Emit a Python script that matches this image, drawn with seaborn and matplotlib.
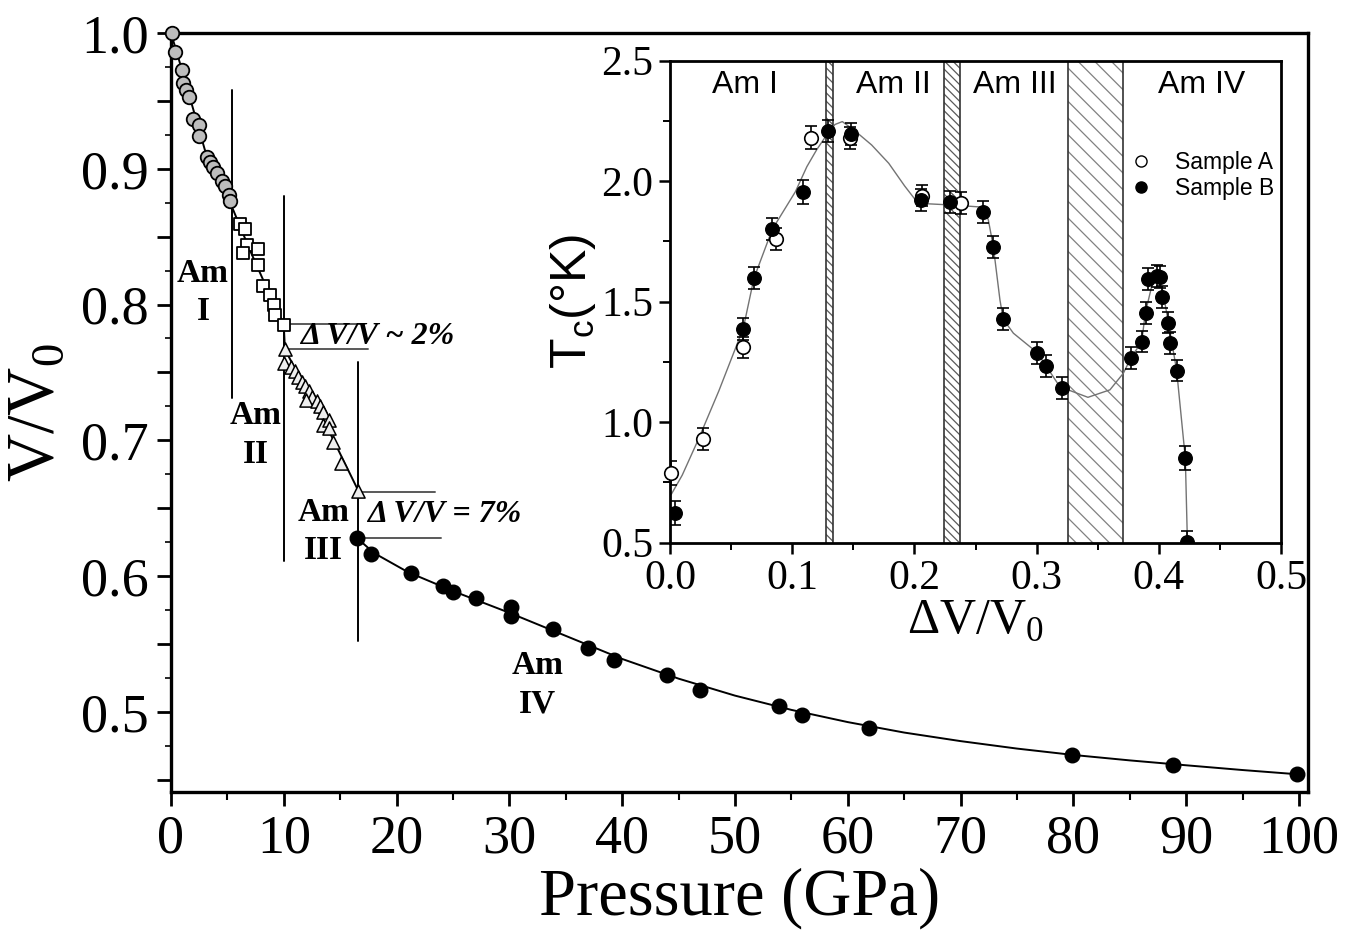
import matplotlib
matplotlib.use("Agg")
import matplotlib.pyplot as plt
import seaborn as sns
from matplotlib.lines import Line2D

# main panel: V/V0 vs pressure
p_am1 = [0.06, 0.35, 1.0, 1.1, 1.33, 1.63, 1.98, 2.5, 2.5, 3.17, 3.46, 3.76, 4.05, 4.5, 4.8, 5.1, 5.2]
v_am1 = [1.0, 0.986, 0.973, 0.963, 0.958, 0.953, 0.937, 0.932, 0.924, 0.909, 0.905, 0.901, 0.897, 0.891, 0.887, 0.881, 0.876]
p_am2 = [6.1, 6.6, 6.7, 6.4, 7.75, 7.75, 8.2, 8.8, 9.1, 9.2, 10.0]
v_am2 = [0.859, 0.856, 0.844, 0.838, 0.841, 0.829, 0.814, 0.807, 0.800, 0.792, 0.785]
p_am3 = [10.1, 10.0, 10.6, 11.0, 11.3, 11.6, 11.9, 12.2, 12.5, 12.0, 12.9, 13.2, 13.5, 13.5, 14.0, 14.0, 14.4, 15.1, 16.6]
v_am3 = [0.767, 0.757, 0.754, 0.751, 0.747, 0.743, 0.740, 0.736, 0.732, 0.730, 0.729, 0.725, 0.721, 0.711, 0.715, 0.709, 0.699, 0.683, 0.663]
p_am4 = [16.5, 17.7, 21.3, 24.1, 25.0, 27.0, 30.1, 30.1, 33.9, 37.0, 39.3, 44.0, 46.9, 53.9, 55.9, 61.9, 79.9, 88.8, 99.8]
v_am4 = [0.628, 0.616, 0.602, 0.593, 0.588, 0.584, 0.577, 0.571, 0.561, 0.547, 0.538, 0.527, 0.516, 0.504, 0.498, 0.488, 0.468, 0.461, 0.454]

# fitted curves as seen in the figure
fit1_p = [0.0, 1.0, 2.0, 3.0, 4.0, 5.3, 7.0, 8.5, 10.0, 10.1, 12.0, 14.0, 16.6]
fit1_v = [1.0, 0.972, 0.943, 0.914, 0.895, 0.874, 0.840, 0.812, 0.785, 0.767, 0.737, 0.707, 0.663]
fit2_p = [16.5, 18, 21, 25, 30, 35, 40, 45, 50, 55, 60, 65, 70, 75, 80, 85, 90, 95, 100]
fit2_v = [0.628, 0.617, 0.603, 0.589, 0.573, 0.556, 0.539, 0.5245, 0.512, 0.5015, 0.4925,
          0.4848, 0.4785, 0.4730, 0.4683, 0.4643, 0.4607, 0.4572, 0.4540]

# phase boundaries (pressure, v bottom, v top)
bound_p = [5.38, 10.05, 16.6]
bound_lo = [0.731, 0.611, 0.552]
bound_hi = [0.958, 0.880, 0.758]
# volume-jump guide lines (v, p start, p end)
jump_v = [0.786, 0.767, 0.662, 0.628]
jump_p0 = [9.96, 10.1, 16.6, 16.6]
jump_p1 = [17.05, 17.5, 23.4, 23.9]

# inset: Tc vs dV/V0
xa = [0.001, 0.027, 0.060, 0.0865, 0.115, 0.147, 0.2065, 0.238]
ya = [0.79, 0.93, 1.31, 1.76, 2.18, 2.18, 1.94, 1.91]
ea = [0.05, 0.045, 0.045, 0.045, 0.047, 0.045, 0.045, 0.045]
xb = [0.004, 0.060, 0.0687, 0.0837, 0.1086, 0.1296, 0.1481, 0.2052, 0.2289, 0.2564, 0.2646,
      0.2727, 0.3006, 0.3077, 0.3211, 0.377, 0.386, 0.3893, 0.3914, 0.3983, 0.401, 0.4026,
      0.4078, 0.4092, 0.4146, 0.4217, 0.4234]
yb = [0.624, 1.386, 1.597, 1.800, 1.956, 2.209, 2.196, 1.922, 1.912, 1.873, 1.728,
      1.427, 1.288, 1.233, 1.143, 1.265, 1.334, 1.454, 1.593, 1.607, 1.601, 1.518,
      1.413, 1.327, 1.214, 0.850, 0.504]
eb = [0.05, 0.045, 0.045, 0.045, 0.05, 0.045, 0.045, 0.045, 0.045, 0.045, 0.045,
      0.045, 0.045, 0.045, 0.045, 0.045, 0.045, 0.045, 0.045, 0.045, 0.045, 0.045,
      0.045, 0.045, 0.045, 0.05, 0.045]
tc_x = [0.001, 0.010, 0.023, 0.040, 0.060, 0.0687, 0.0837, 0.1026, 0.112, 0.120, 0.128, 0.135, 0.141,
        0.151, 0.165, 0.179, 0.192, 0.203, 0.230, 0.256, 0.2605, 0.2646, 0.270, 0.2727, 0.281,
        0.3006, 0.319, 0.342, 0.360, 0.371, 0.377, 0.386, 0.389, 0.394, 0.398, 0.403, 0.408,
        0.4146, 0.4217, 0.4234]
tc_y = [0.70, 0.78, 0.926, 1.13, 1.39, 1.597, 1.80, 1.956, 2.06, 2.13, 2.19, 2.235, 2.247,
        2.21, 2.15, 2.074, 1.98, 1.908, 1.901, 1.892, 1.839, 1.728, 1.507, 1.427, 1.369,
        1.288, 1.147, 1.103, 1.134, 1.203, 1.265, 1.334, 1.454, 1.56, 1.61, 1.55, 1.41,
        1.214, 0.85, 0.504]
bands = [(0.128, 0.1334), (0.224, 0.2376), (0.326, 0.371)]
phase_x = [0.0614, 0.1825, 0.2823, 0.435]
phase_txt = ["Am I", "Am II", "Am III", "Am IV"]

sns.set_style("ticks")
plt.rcParams["font.family"] = ["Liberation Serif", "DejaVu Serif"]
plt.rcParams["hatch.linewidth"] = 0.9
for k in ["text.color", "axes.labelcolor", "xtick.color", "ytick.color", "axes.edgecolor"]:
    plt.rcParams[k] = "black"

fig = plt.figure(figsize=(13.56, 9.34), dpi=100)
ax = fig.add_axes([0.1261, 0.152, 0.8385, 0.8127])

sns.lineplot(x=fit1_p, y=fit1_v, sort=False, color="black", lw=1.4, ax=ax, zorder=2)
sns.lineplot(x=fit2_p, y=fit2_v, sort=False, color="black", lw=1.4, ax=ax, zorder=2)
for p, lo, hi in zip(bound_p, bound_lo, bound_hi):
    ax.plot([p, p], [lo, hi], color="black", lw=1.4, zorder=1)
for v, a, b in zip(jump_v, jump_p0, jump_p1):
    ax.plot([a, b], [v, v], color="0.35", lw=1.4, zorder=1)

sns.scatterplot(x=p_am1, y=v_am1, marker="o", s=95, color="#bdbdbd", edgecolor="black",
                linewidth=1.3, ax=ax, zorder=3, clip_on=False)
sns.scatterplot(x=p_am2, y=v_am2, marker="s", s=85, color="white", edgecolor="black",
                linewidth=1.3, ax=ax, zorder=3)
sns.scatterplot(x=p_am3, y=v_am3, marker="^", s=90, color="#eeeeee", edgecolor="black",
                linewidth=1.1, ax=ax, zorder=3)
sns.scatterplot(x=p_am4, y=v_am4, marker="o", s=110, color="black", edgecolor="black",
                linewidth=1, ax=ax, zorder=3)

lab = dict(fontsize=24, fontweight="bold", ha="center", va="center", linespacing=1.3)
ax.text(2.84, 0.809, "Am\nI", **lab)
ax.text(7.54, 0.704, "Am\nII", **lab)
ax.text(13.5, 0.633, "Am\nIII", **lab)
ax.text(32.5, 0.520, "Am\nIV", **lab)
ax.text(11.4, 0.7765, "\u0394 V/V ~ 2%", fontsize=23, fontweight="bold", style="italic",
        ha="left", va="center")
ax.text(17.4, 0.6455, "\u0394 V/V = 7%", fontsize=23, fontweight="bold", style="italic",
        ha="left", va="center")

ax.set_xlim(0, 100.8)
ax.set_ylim(0.441, 1.0)
ax.set_xticks(range(0, 101, 10))
ax.set_xticks(range(5, 101, 10), minor=True)
yt = [0.45, 0.5, 0.55, 0.6, 0.65, 0.7, 0.75, 0.8, 0.85, 0.9, 0.95, 1.0]
ax.set_yticks(yt)
ax.set_yticklabels(["" if round(t * 100) % 10 else f"{t:.1f}" for t in yt])
ax.set_yticks([0.475 + 0.05 * i for i in range(11)], minor=True)
ax.tick_params(axis="both", which="major", labelsize=39, length=10, width=2, direction="out", pad=6)
ax.tick_params(axis="x", which="minor", length=6, width=1.5, direction="out")
ax.tick_params(axis="y", which="minor", length=4, width=1.2, direction="out")
for s in ax.spines.values():
    s.set_linewidth(2.4)
ax.set_xlabel("Pressure (GPa)", fontsize=48, labelpad=2)
ax.set_ylabel("V/V$_\\mathregular{0}$", fontsize=48, labelpad=10)

# inset
ins = fig.add_axes([0.4941, 0.419, 0.4506, 0.5161])
ins.set_facecolor("white")
for i, (a, b) in enumerate(bands):
    ins.axvspan(a, b, facecolor="white", edgecolor="0.35" if i < 2 else "0.5",
                hatch="\\\\\\\\" if i < 2 else "\\\\", lw=0, zorder=1)
    ins.axvline(a, color="0.2", lw=1.2, zorder=1)
    ins.axvline(b, color="0.2", lw=1.2, zorder=1)
sns.lineplot(x=tc_x, y=tc_y, sort=False, color="0.45", lw=1.0, ax=ins, zorder=2)
ins.errorbar(xa, ya, yerr=ea, fmt="none", ecolor="black", elinewidth=1.2, capsize=4.5,
             capthick=1.2, zorder=3)
ins.errorbar(xb, yb, yerr=eb, fmt="none", ecolor="black", elinewidth=1.2, capsize=4.5,
             capthick=1.2, zorder=3)
sns.scatterplot(x=xa, y=ya, marker="o", s=95, color="white", edgecolor="black",
                linewidth=1.2, ax=ins, zorder=4, clip_on=False)
sns.scatterplot(x=xb, y=yb, marker="o", s=95, color="black", edgecolor="black",
                linewidth=1, ax=ins, zorder=4)
for x, t in zip(phase_x, phase_txt):
    ins.text(x, 2.40, t, fontsize=23, family=["Liberation Sans", "DejaVu Sans"],
             ha="center", va="center")

handles = [Line2D([], [], ls="", marker="o", ms=8, mfc="white", mec="black", mew=1),
           Line2D([], [], ls="", marker="o", ms=8, mfc="black", mec="black")]
ins.legend(handles, ["Sample A", "Sample B"], loc="upper left", bbox_to_anchor=(0.752, 0.812),
           frameon=False, handlelength=1.0, handletextpad=1.0, labelspacing=0.12,
           borderpad=0, borderaxespad=0,
           prop={"family": ["Liberation Sans", "DejaVu Sans"], "size": 16.5})

ins.set_xlim(0, 0.5)
ins.set_ylim(0.5, 2.5)
ins.set_xticks([0, 0.1, 0.2, 0.3, 0.4, 0.5])
ins.set_xticks([0.05, 0.15, 0.25, 0.35, 0.45], minor=True)
ins.set_yticks([0.5, 1.0, 1.5, 2.0, 2.5])
ins.set_yticks([0.75, 1.25, 1.75, 2.25], minor=True)
ins.tick_params(axis="both", which="major", labelsize=30, length=8, width=1.8, direction="out", pad=4)
ins.tick_params(axis="both", which="minor", length=5, width=1.4, direction="out")
for s in ins.spines.values():
    s.set_linewidth(2.0)
ins.set_xlabel("\u0394V/V$_\\mathregular{0}$", fontsize=36, labelpad=0)
ins.set_ylabel("T$_\\mathregular{c}$(\u00b0K)", fontsize=36, labelpad=2,
               family=["Liberation Sans", "DejaVu Sans"])

fig.savefig("out.png", dpi=100)
